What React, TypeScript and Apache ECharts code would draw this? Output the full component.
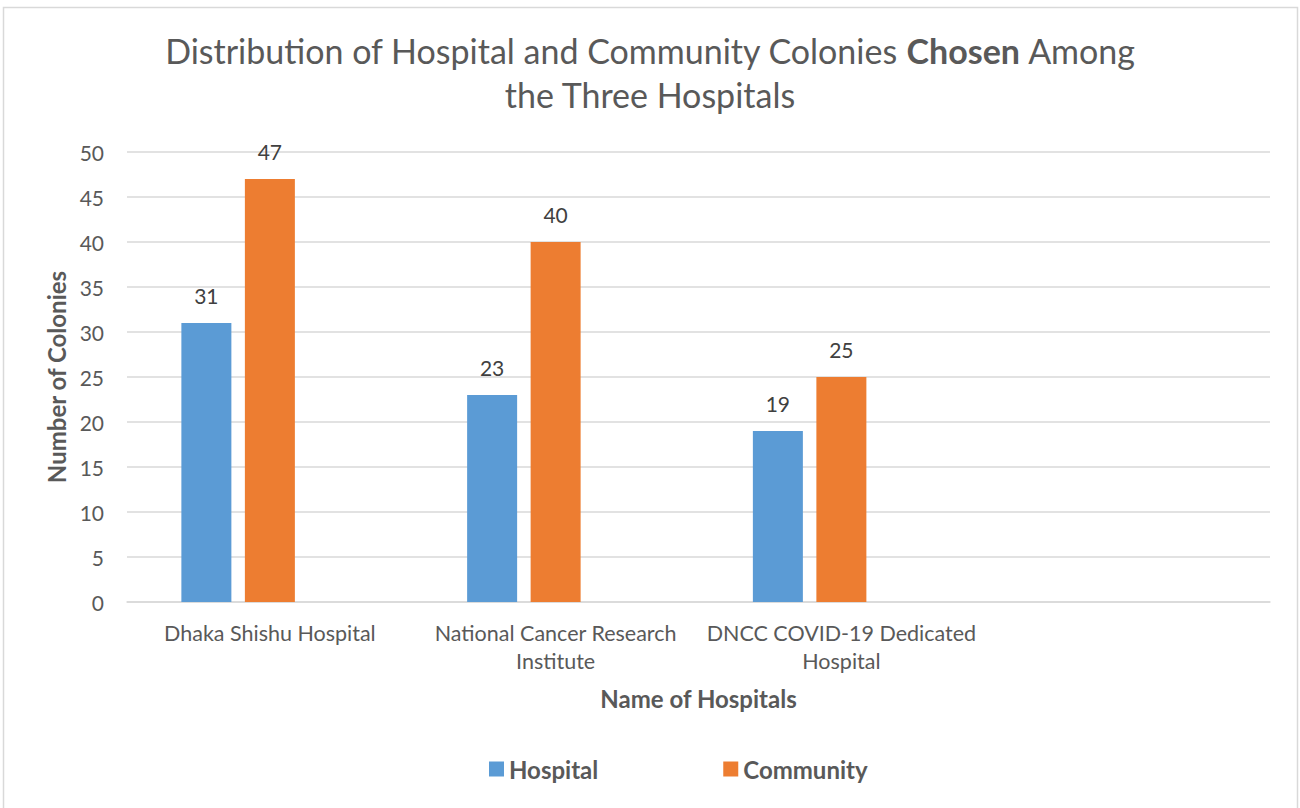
import React, { useEffect, useRef } from "react";
import * as echarts from "echarts";

const categories = [
  "Dhaka Shishu Hospital",
  "National Cancer Research\nInstitute",
  "DNCC COVID-19 Dedicated\nHospital",
  "",
];
const hospitalValues = [31, 23, 19, null];
const communityValues = [47, 40, 25, null];
const emptySeries = [null, null, null, null];
const yTicks = { min: 0, max: 50, interval: 5 };

const FONT = "Lato, 'Open Sans', sans-serif";
const GREY = "#595959";

export default function App() {
  const ref = useRef<HTMLDivElement>(null);
  useEffect(() => {
    document.body.style.margin = "0";
    const chart = echarts.init(ref.current!, null, { renderer: "svg" });
    const labelStyle = {
      show: true,
      position: "top" as const,
      distance: 17,
      color: "#404040",
      fontSize: 21,
      fontFamily: FONT,
    };
    chart.setOption({
      animation: false,
      backgroundColor: "#ffffff",
      textStyle: { fontFamily: FONT },
      title: {
        text: "Distribution of Hospital and Community Colonies {b|Chosen} Among\nthe Three Hospitals",
        left: "center",
        top: 23,
        textStyle: {
          fontSize: 34,
          fontWeight: "normal",
          color: GREY,
          fontFamily: FONT,
          lineHeight: 44,
          rich: {
            b: { fontSize: 34, fontWeight: "bold", color: GREY, fontFamily: FONT, lineHeight: 44 },
          },
        },
      },
      graphic: [
        {
          type: "rect",
          shape: { x: 3.5, y: 7.5, width: 1294, height: 830 },
          style: { fill: "none", stroke: "#d9d9d9", lineWidth: 1.5 },
          silent: true,
        },
      ],
      legend: {
        data: ["Hospital", "Community"],
        bottom: 22,
        left: 484,
        itemWidth: 15,
        itemHeight: 15,
        itemGap: 125,
        icon: "rect",
        textStyle: { fontSize: 24, fontWeight: "bold", color: GREY, fontFamily: FONT },
      },
      grid: { left: 127, right: 30, top: 152, bottom: 206, containLabel: false },
      xAxis: {
        type: "category",
        data: categories,
        name: "Name of Hospitals",
        nameLocation: "middle",
        nameGap: 84,
        nameTextStyle: { fontSize: 24, fontWeight: "bold", color: GREY, fontFamily: FONT },
        axisLine: { lineStyle: { color: "#d9d9d9", width: 1.5 } },
        axisTick: { show: false },
        axisLabel: {
          color: GREY,
          fontSize: 21.5,
          margin: 17,
          lineHeight: 28,
          interval: 0,
          fontFamily: FONT,
        },
      },
      yAxis: {
        type: "value",
        min: yTicks.min,
        max: yTicks.max,
        interval: yTicks.interval,
        name: "Number of Colonies",
        nameLocation: "middle",
        nameGap: 55,
        nameTextStyle: { fontSize: 24, fontWeight: "bold", color: GREY, fontFamily: FONT },
        axisLine: { show: false },
        axisTick: { show: false },
        axisLabel: { color: GREY, fontSize: 21, margin: 23, fontFamily: FONT },
        splitLine: { lineStyle: { color: "#d9d9d9", width: 1.5 } },
      },
      series: [
        {
          name: "Hospital",
          type: "bar",
          data: hospitalValues,
          barWidth: 50,
          barGap: "27%",
          itemStyle: { color: "#5b9bd5" },
          label: labelStyle,
        },
        {
          name: "Community",
          type: "bar",
          data: communityValues,
          barWidth: 50,
          barGap: "27%",
          itemStyle: { color: "#ed7d31" },
          label: labelStyle,
        },
        {
          name: "Empty",
          type: "bar",
          data: emptySeries,
          barWidth: 50,
          barGap: "27%",
          itemStyle: { color: "#a5a5a5" },
        },
      ],
    });
    return () => chart.dispose();
  }, []);
  return (
    <div
      ref={ref}
      style={{ position: "absolute", left: 0, top: 0, width: 1300, height: 808 }}
    />
  );
}
